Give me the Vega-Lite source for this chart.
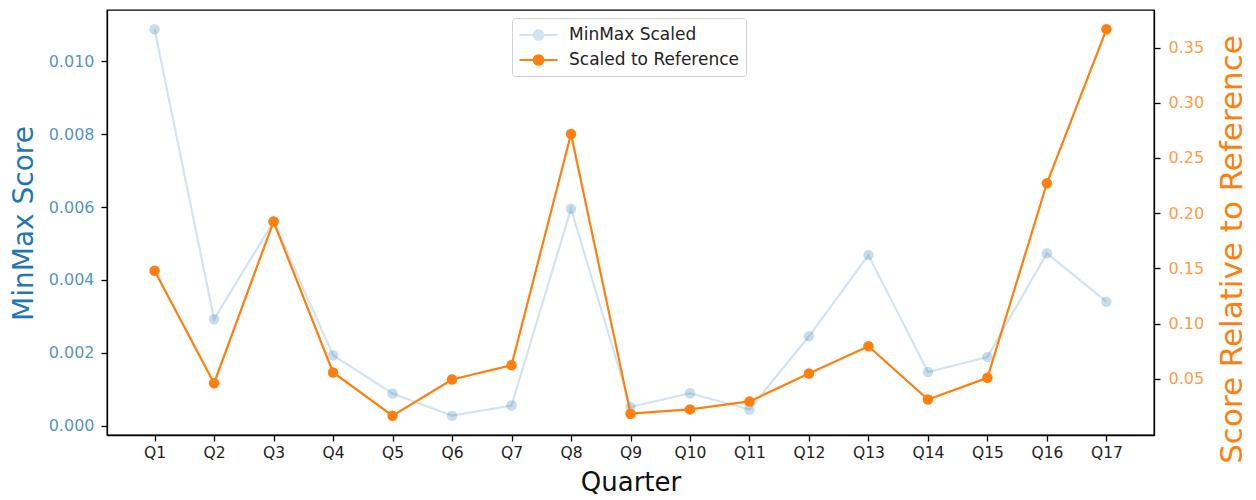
{
  "$schema": "https://vega.github.io/schema/vega-lite/v6.json",
  "autosize": {"type": "none"},
  "padding": {"left": 107, "top": 10, "right": 102, "bottom": 65},
  "width": 1047,
  "height": 425,
  "background": "white",
  "config": {
    "font": "DejaVu Sans",
    "view": {"stroke": "#000", "strokeWidth": 1.3},
    "axis": {"grid": false, "domainColor": "#000", "domainWidth": 1.3, "tickColor": "#000", "tickWidth": 1.3, "tickSize": 6, "labelFont": "DejaVu Sans", "titleFont": "DejaVu Sans", "titleFontWeight": "normal", "labelFontSize": 16}
  },
  "data": {"values": [
    {"q": "Q1", "minmax": 0.01088, "ref": 0.1479},
    {"q": "Q2", "minmax": 0.00292, "ref": 0.0460},
    {"q": "Q3", "minmax": 0.0056, "ref": 0.1924},
    {"q": "Q4", "minmax": 0.00193, "ref": 0.0557},
    {"q": "Q5", "minmax": 0.00088, "ref": 0.0166},
    {"q": "Q6", "minmax": 0.00027, "ref": 0.0494},
    {"q": "Q7", "minmax": 0.00055, "ref": 0.0623},
    {"q": "Q8", "minmax": 0.00595, "ref": 0.2717},
    {"q": "Q9", "minmax": 0.00051, "ref": 0.0184},
    {"q": "Q10", "minmax": 0.000885, "ref": 0.0223},
    {"q": "Q11", "minmax": 0.00044, "ref": 0.0295},
    {"q": "Q12", "minmax": 0.00245, "ref": 0.0548},
    {"q": "Q13", "minmax": 0.00468, "ref": 0.0795},
    {"q": "Q14", "minmax": 0.00147, "ref": 0.0313},
    {"q": "Q15", "minmax": 0.00188, "ref": 0.0509},
    {"q": "Q16", "minmax": 0.00473, "ref": 0.2271},
    {"q": "Q17", "minmax": 0.00340, "ref": 0.3665}
  ]},
  "encoding": {
    "x": {
      "field": "q", "type": "ordinal", "sort": null,
      "scale": {"type": "point", "padding": 0.8},
      "axis": {"title": "Quarter", "labelAngle": 0, "labelColor": "#222", "labelFontSize": 15.5, "labelPadding": 4, "titleFontSize": 26, "titleColor": "#111", "titleBaseline": "alphabetic", "titleY": 55}
    }
  },
  "layer": [
    {
      "encoding": {
        "y": {
          "field": "minmax", "type": "quantitative",
          "scale": {"domain": [-0.00026, 0.01141], "nice": false, "zero": false},
          "axis": {"orient": "left", "title": "MinMax Score", "values": [0, 0.002, 0.004, 0.006, 0.008, 0.01], "format": ".3f", "labelColor": "#1f77b4", "labelOpacity": 0.8, "labelPadding": 7, "titleColor": "#1f77b4", "titleFontSize": 28, "titleBaseline": "alphabetic", "titleX": -75, "titleY": 213}
        }
      },
      "layer": [
        {
          "mark": {"type": "line", "strokeWidth": 2.2},
          "encoding": {
            "color": {
              "datum": "MinMax Scaled",
              "scale": {"domain": ["MinMax Scaled", "Scaled to Reference"], "range": ["#d2e4f0", "#ff7f0e"]},
              "legend": {
                "orient": "none", "legendX": 405, "legendY": 8, "title": null,
                "symbolType": "M-1,0H3M0.5,0A0.5,0.5,0,1,0,1.5,0A0.5,0.5,0,1,0,0.5,0Z",
                "symbolSize": 361, "symbolStrokeWidth": 2.2,
                "labelFontSize": 17, "labelColor": "#222", "labelFont": "DejaVu Sans", "labelOffset": 29, "labelLimit": 400,
                "padding": 6, "rowPadding": 4,
                "strokeColor": "#d0d0d0", "fillColor": "white", "cornerRadius": 3,
                "encode": {"symbols": {"update": {"fill": {"scale": "color", "field": "value"}, "stroke": {"scale": "color", "field": "value"}}}}
              }
            }
          }
        },
        {
          "mark": {"type": "point", "filled": true, "size": 110, "color": "#1f77b4", "opacity": 0.25}
        }
      ]
    },
    {
      "encoding": {
        "y": {
          "field": "ref", "type": "quantitative",
          "scale": {"domain": [-0.0009, 0.384], "nice": false, "zero": false},
          "axis": {"orient": "right", "title": "Score Relative to Reference", "values": [0.05, 0.1, 0.15, 0.2, 0.25, 0.3, 0.35], "format": ".2f", "labelColor": "#ff7f0e", "labelOpacity": 0.8, "labelPadding": 8, "titleColor": "#ff7f0e", "titleFontSize": 31, "titleAngle": 270, "titleBaseline": "alphabetic", "titleX": 87, "titleY": 239}
        }
      },
      "layer": [
        {
          "mark": {"type": "line", "strokeWidth": 2.2},
          "encoding": {"color": {"datum": "Scaled to Reference"}}
        },
        {
          "mark": {"type": "point", "filled": true, "size": 110, "color": "#ff7f0e", "opacity": 1}
        }
      ]
    }
  ],
  "resolve": {"scale": {"y": "independent"}}
}
